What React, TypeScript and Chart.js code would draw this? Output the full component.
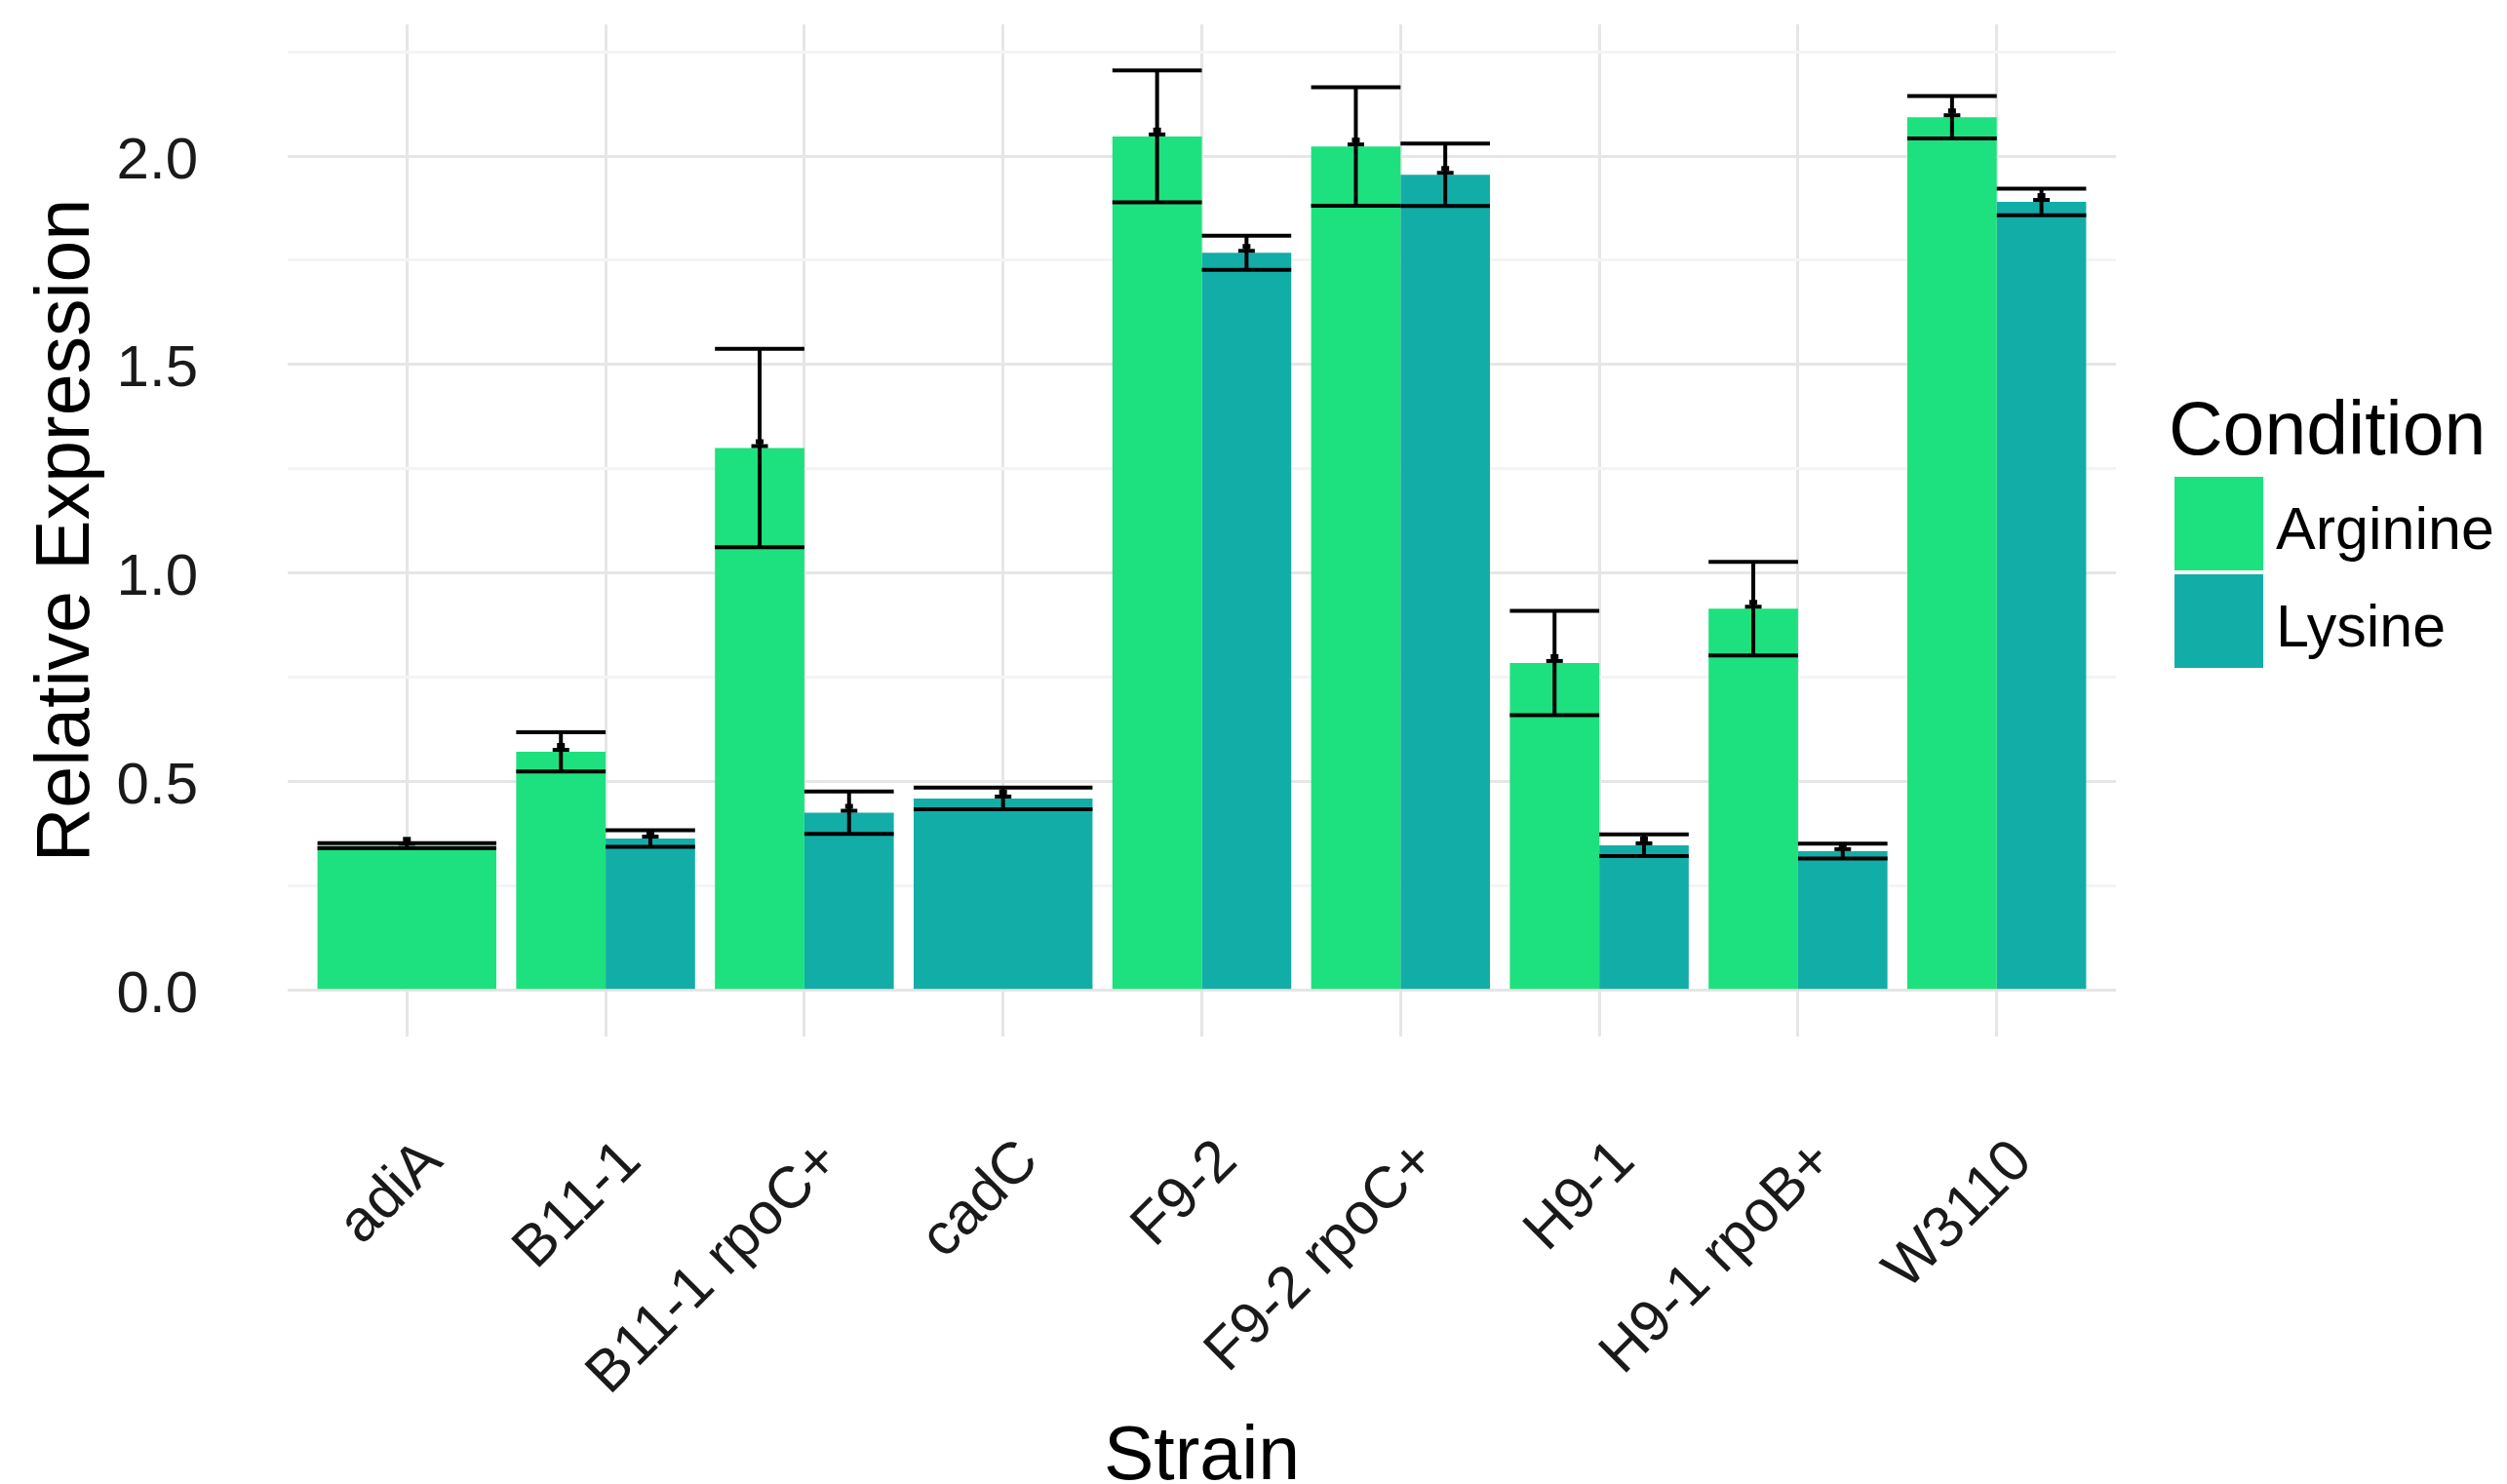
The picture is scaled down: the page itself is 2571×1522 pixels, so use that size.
import { useEffect, useRef } from 'react';
import { Chart, registerables } from 'chart.js';

Chart.register(...registerables);

// ---- data ----
const strains = ['adiA', 'B11-1', 'B11-1 rpoC+', 'cadC', 'F9-2', 'F9-2 rpoC+', 'H9-1', 'H9-1 rpoB+', 'W3110'];
const conditions = ['Arginine', 'Lysine'];
const arginineMean: (number | null)[] = [0.347, 0.572, 1.3, null, 2.047, 2.023, 0.785, 0.915, 2.093];
const arginineErr: (number | null)[] = [0.006, 0.047, 0.238, null, 0.158, 0.142, 0.125, 0.112, 0.051];
const lysineMean: (number | null)[] = [null, 0.364, 0.426, 0.46, 1.768, 1.955, 0.348, 0.334, 1.89];
const lysineErr: (number | null)[] = [null, 0.02, 0.051, 0.026, 0.041, 0.075, 0.026, 0.018, 0.032];
const yMajorTicks = [0, 0.5, 1.0, 1.5, 2.0];

const FONT = '"Liberation Sans", Arial, sans-serif';
const GREEN = '#1de17e';
const TEAL = '#13ada8';

const errorBarPlugin = {
  id: 'errorBars',
  afterDatasetsDraw(chart: any) {
    const { ctx } = chart;
    const y = chart.scales.y;
    chart.data.datasets.forEach((ds: any, d: number) => {
      const meta = chart.getDatasetMeta(d);
      meta.data.forEach((el: any, i: number) => {
        const v = ds.data[i].y;
        const e = ds.errors[i];
        if (v == null || e == null) return;
        const x = el.x;
        const w = el.width;
        const top = y.getPixelForValue(v + e);
        const bot = y.getPixelForValue(v - e);
        const mid = y.getPixelForValue(v);
        ctx.save();
        ctx.strokeStyle = '#000';
        ctx.lineWidth = 4;
        ctx.beginPath();
        ctx.moveTo(x - w / 2, top);
        ctx.lineTo(x + w / 2, top);
        ctx.moveTo(x - w / 2, bot);
        ctx.lineTo(x + w / 2, bot);
        ctx.moveTo(x, top);
        ctx.lineTo(x, bot);
        ctx.stroke();
        ctx.fillStyle = '#000';
        ctx.fillRect(x - 8.5, mid - 4, 17, 4);
        ctx.fillRect(x - 4, mid - 9, 8, 5);
        ctx.restore();
      });
    });
  },
};

const legendPlugin = {
  id: 'ggLegend',
  afterDraw(chart: any) {
    const { ctx } = chart;
    ctx.save();
    ctx.fillStyle = '#000';
    ctx.textAlign = 'left';
    ctx.textBaseline = 'alphabetic';
    ctx.font = `77px ${FONT}`;
    ctx.fillText('Condition', 2224, 466);
    const colors = chart.data.datasets.map((ds: any) => ds.backgroundColor);
    const keyTops = [489, 589];
    const baselines = [563, 663];
    conditions.forEach((c, i) => {
      ctx.fillStyle = colors[i];
      ctx.fillRect(2230, keyTops[i], 91, 96);
      ctx.fillStyle = '#000';
      ctx.font = `61px ${FONT}`;
      ctx.fillText(c, 2334, baselines[i]);
    });
    ctx.restore();
  },
};

export default function App() {
  const ref = useRef<HTMLCanvasElement>(null);
  useEffect(() => {
    document.body.style.margin = '0';
    document.body.style.overflow = 'hidden';
    const isMajor = (v: number) => yMajorTicks.some((t) => Math.abs(t - v) < 1e-6);
    const chart = new Chart(ref.current as HTMLCanvasElement, {
      type: 'bar',
      data: {
        datasets: [
          {
            label: conditions[0],
            data: strains.map((_, i) => ({ x: i, y: arginineMean[i] })) as any,
            errors: arginineErr,
            backgroundColor: GREEN,
            borderWidth: 0,
          } as any,
          {
            label: conditions[1],
            data: strains.map((_, i) => ({ x: i, y: lysineMean[i] })) as any,
            errors: lysineErr,
            backgroundColor: TEAL,
            borderWidth: 0,
          } as any,
        ],
      },
      options: {
        responsive: false,
        devicePixelRatio: 1,
        animation: false,
        events: [],
        skipNull: true,
        categoryPercentage: 0.9,
        barPercentage: 1.0,
        layout: { padding: { left: 0, top: 25, right: 401, bottom: 0 } },
        plugins: {
          legend: { display: false },
          tooltip: { enabled: false },
        },
        scales: {
          x: {
            type: 'linear',
            min: -0.6,
            max: 8.6,
            offset: false,
            border: { display: false },
            grid: {
              offset: false,
              color: '#e6e6e6',
              lineWidth: 3,
              drawTicks: false,
            },
            ticks: {
              stepSize: 1,
              includeBounds: false,
              autoSkip: false,
              minRotation: 45,
              maxRotation: 45,
              padding: 93,
              labelOffset: 27,
              color: '#1a1a1a',
              font: { family: FONT, size: 60 },
              callback: (v: any) => strains[Math.round(Number(v))] ?? '',
            },
            title: {
              display: true,
              text: 'Strain',
              color: '#000',
              font: { family: FONT, size: 77, lineHeight: 0.6 },
              padding: { top: 0, bottom: 3 },
            },
            afterFit: (s: any) => {
              s.height = 459;
              s.paddingLeft = 0;
              s.paddingRight = 0;
            },
          },
          y: {
            type: 'linear',
            min: -0.1103,
            max: 2.3155,
            border: { display: false },
            grid: {
              drawTicks: false,
              color: (c: any) => (isMajor(c.tick.value) ? '#e6e6e6' : '#f4f4f4'),
              lineWidth: 3,
            },
            ticks: {
              stepSize: 0.25,
              includeBounds: false,
              padding: 92,
              labelOffset: 6,
              color: '#1a1a1a',
              font: { family: FONT, size: 60 },
              callback: (v: any) => (isMajor(Number(v)) ? Number(v).toFixed(1) : ''),
            },
            title: {
              display: true,
              text: 'Relative Expression',
              color: '#000',
              font: { family: FONT, size: 77 },
              padding: { top: 24, bottom: 0 },
            },
            afterFit: (s: any) => {
              s.width = 295;
              s.paddingTop = 0;
              s.paddingBottom = 0;
            },
          },
        },
      } as any,
      plugins: [errorBarPlugin, legendPlugin],
    });
    return () => chart.destroy();
  }, []);
  return (
    <canvas
      ref={ref}
      width={2571}
      height={1522}
      style={{ display: 'block', width: '2571px', height: '1522px' }}
    />
  );
}
